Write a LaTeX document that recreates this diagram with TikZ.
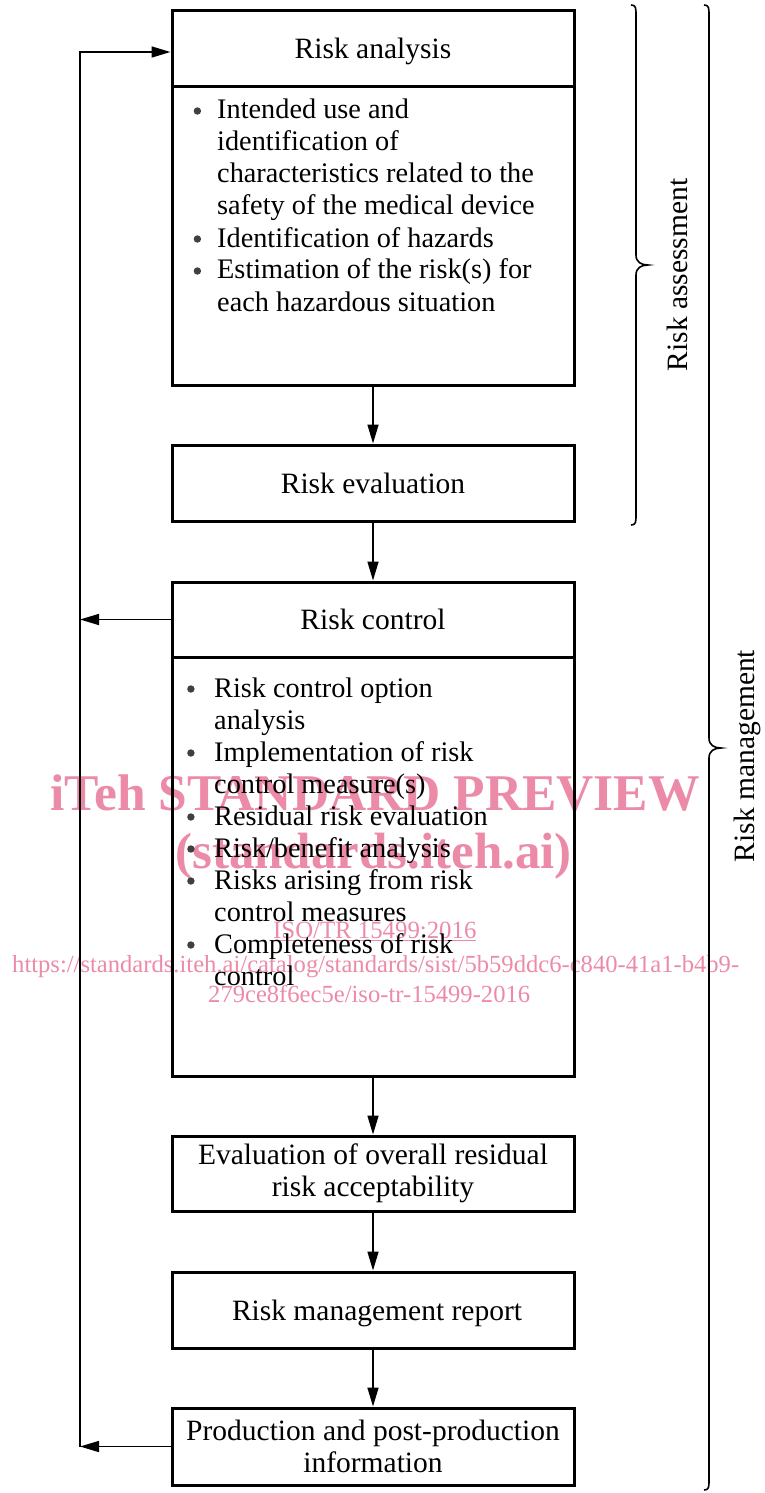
\documentclass[tikz,border=0pt]{standalone}
\usepackage{fontspec}
\setmainfont{Liberation Serif}
\usetikzlibrary{arrows.meta}
\definecolor{wmpink}{RGB}{236,139,168}
\newcommand\bodyfont{\fontsize{28.3}{32}\selectfont}
\newcommand\titlefont{\fontsize{29.5}{32}\selectfont}
\newcommand\bl{\tikz[x=1cm,y=1cm,baseline=0pt]\fill[black!75] (0,8pt) circle (3.7pt);}
\begin{document}
\begin{tikzpicture}[x=1pt,y=-1pt,
  box/.style={draw, line width=3pt, minimum width=402pt, inner sep=0pt, font=\titlefont, align=center},
  sbox/.style={box, text height=20pt, text depth=0pt},
  arr/.style={line width=1.6pt, -{Triangle[length=19pt,width=11pt]}},
  brc/.style={line width=1.6pt},
  wm/.style={text=wmpink, inner sep=0pt, anchor=base west},
  listtxt/.style={inner sep=0pt, anchor=base west, font=\bodyfont},
  side/.style={rotate=90, font=\titlefont, inner sep=0pt}]
\fill[white] (0,0) rectangle (764,1493);
\useasboundingbox (0,0) rectangle (764,1493);

% watermark
\node[wm, font=\fontsize{51.5}{52}\selectfont\bfseries] (wm1) at (50,810) {iTeh STANDARD PREVIEW};
\node[wm, font=\fontsize{51}{52}\selectfont\bfseries] (wm2) at (175,868) {(standards.iteh.ai)};
\node[wm, font=\fontsize{24.8}{26}\selectfont] (wm3) at (273,938) {\underline{ISO/TR 15499:2016}};
\node[wm, font=\fontsize{24.6}{26}\selectfont] (wm4) at (12,972) {https://standards.iteh.ai/catalog/standards/sist/5b59ddc6-c840-41a1-b4b9-};
\node[wm, font=\fontsize{24.6}{26}\selectfont] (wm5) at (208,1002) {279ce8f6ec5e/iso-tr-15499-2016};

% boxes
\node[sbox, minimum height=76pt] (ra) at (373,49) {Risk analysis};
\node[box, minimum height=298pt] (rab) at (373,236) {};
\node[listtxt] (ratxt) at (193,119) {\begin{tabular}[t]{@{}l@{}l@{}}
\makebox[24pt][l]{\hspace{0.5pt}\bl} & Intended use and\\
 & identification of\\
 & characteristics related to the\\
 & safety of the medical device\\
\hspace{0.5pt}\bl & Identification of hazards\\
\hspace{0.5pt}\bl & Estimation of the risk(s) for\\
 & each hazardous situation
\end{tabular}};
\node[sbox, minimum height=76pt] (re) at (373,483) {Risk evaluation};
\node[sbox, minimum height=75pt] (rc) at (373,619.5) {Risk control};
\node[box, minimum height=419pt] (rcb) at (373,866.5) {};
\node[listtxt] (rctxt) at (187,697) {\begin{tabular}[t]{@{}l@{}l@{}}
\makebox[27pt][l]{\bl} & Risk control option\\
 & analysis\\
\bl & Implementation of risk\\
 & control measure(s)\\
\bl & Residual risk evaluation\\
\bl & Risk/benefit analysis\\
\bl & Risks arising from risk\\
 & control measures\\
\bl & Completeness of risk\\
 & control
\end{tabular}};
\node[box, minimum height=75pt] (eo) at (373,1173.5) {Evaluation of overall residual\\risk acceptability};
\node[sbox, minimum height=76pt] (rm) at (373,1310) {\hspace*{8pt}Risk management report};
\node[box, minimum height=77pt] (pp) at (373,1446.5) {Production and post-production\\information};

% main flow
\draw[arr] (rab.south) -- (re.north);
\draw[arr] (re.south) -- (rc.north);
\draw[arr] (rcb.south) -- (eo.north);
\draw[arr] (eo.south) -- (rm.north);
\draw[arr] (rm.south) -- (pp.north);

% feedback loop
\coordinate (fbtop) at (80,52);
\coordinate (fbmid) at (80,619.5);
\coordinate (fbbot) at (80,1446.5);
\draw[arr] (rc.west) -- (fbmid);
\draw[arr] (pp.west) -- (fbbot);
\draw[arr] (fbbot) -- (fbtop) -- (fbtop -| ra.west);

% braces
\draw[brc] (631,5) .. controls (636,5) and (636,8) .. (636,15) -- (636,255)
  .. controls (636,262) and (641,265) .. (648,265)
  .. controls (641,265) and (636,268) .. (636,275) -- (636,515)
  .. controls (636,522) and (636,525) .. (631,525);
\node[side] (lra) at (677,275) {Risk assessment};
\draw[brc] (704,5) .. controls (709,5) and (709,8) .. (709,15) -- (709,738)
  .. controls (709,745) and (714,748) .. (721,748)
  .. controls (714,748) and (709,751) .. (709,758) -- (709,1480)
  .. controls (709,1487) and (709,1490) .. (704,1490);
\node[side] (lrm) at (747,756) {Risk management};
\end{tikzpicture}
\end{document}
